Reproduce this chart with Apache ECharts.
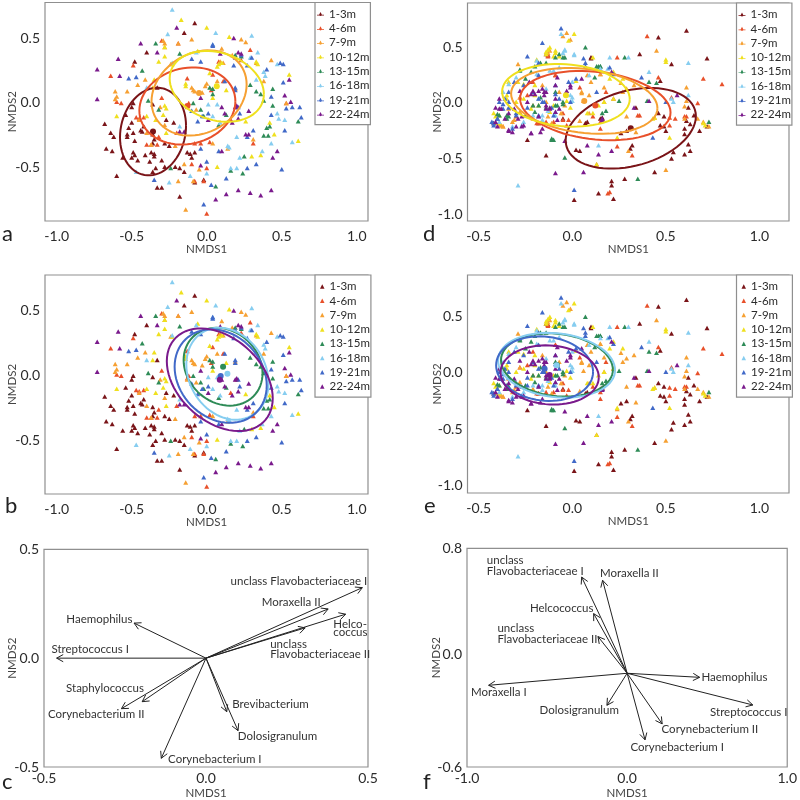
<!DOCTYPE html>
<html><head><meta charset="utf-8">
<style>html,body{margin:0;padding:0;background:#fff}#c{width:800px;height:800px}</style>
<script src="https://cdn.jsdelivr.net/npm/echarts@6/dist/echarts.min.js"></script>
</head><body><div id="c"></div>
<script>
const groupNames=['1-3m','4-6m','7-9m','10-12m','13-15m','16-18m','19-21m','22-24m'];
const groupColors=['#7a1418','#e8502a','#f6a032','#efe01e','#2e8b57','#86cdf0','#4169c8','#7a1a8c'];

// Site 1 ordination (panels a, b)
const left1_3=[[-.08,.615],[-.15,.54],[-.40,.39],[-.48,.32],[-.49,0],[-.50,-.03],[-.54,-.09],[-.50,-.15],[-.68,-.16],[-.64,-.23],[-.62,-.26],[-.67,-.35],[-.63,-.37],[-.60,-.56],[-.56,-.42],[-.53,-.24],[-.53,-.26],[-.49,-.23],[-.52,-.19],[-.44,-.21],[-.43,-.22],[-.42,-.18],[-.48,-.29],[-.36,-.24],[-.35,-.28],[-.36,-.31],[-.49,-.38],[-.48,-.40],[-.46,-.44],[-.50,-.42],[-.41,-.40],[-.37,-.38],[-.35,-.39],[-.38,-.45],[-.35,-.41],[-.34,-.5],[-.30,-.44],[-.28,-.49],[-.21,-.49],[-.36,-.53],[-.33,-.65],[-.30,-.65],[-.18,-.72],[-.18,-.50],[-.15,-.53],[-.13,-.38],[-.11,-.39],[-.08,-.38],[-.10,-.42],[-.02,-.59],[-.08,-.61],[-.25,-.33],[-.28,-.31],[-.22,-.15],[-.27,-.13],[-.36,-.01],[-.33,.12]];
const left4_6=[[-.64,.21],[-.49,.29],[-.60,.01],[-.57,0],[-.47,-.11],[-.45,-.12],[-.42,-.11],[-.40,-.32],[-.37,-.32],[-.33,-.32],[-.32,-.26],[-.30,.04],[-.30,.48],[-.19,.46],[-.13,.19],[-.12,0],[-.13,-.02],[.04,.22],[.08,.32],[.23,.33],[.29,.41],[.11,.17],[.03,.10],[.20,-.03],[.16,-.13],[-.20,-.23],[.02,-.30],[-.08,-.31],[-.04,-.31],[-.10,-.47],[-.02,-.60],[-.08,-.60],[0,-.50],[0,-.85],[.31,-.31],[.53,0]];
const left7_9=[[-.61,.09],[-.60,.05],[-.61,.03],[-.53,.09],[-.46,.14],[-.41,.18],[-.29,.48],[-.28,.46],[-.10,.49],[-.19,.46],[-.45,-.13],[-.40,-.23],[-.37,-.32],[-.28,-.17],[-.31,-.03],[-.21,-.33],[-.15,-.47],[-.19,-.60],[-.14,-.82],[-.09,-.60],[-.05,-.51],[.10,.42],[.17,.37],[.23,.49],[.26,.47],[.11,.31],[.09,.32],[.43,.33],[.38,.17],[.53,0],[.19,.11],[.07,.17],[-.10,.12],[-.09,.10],[0,.15],[-.01,.13],[-.07,-.05],[-.13,-.03],[-.08,.09],[-.03,.08],[.33,.31],[-.24,.30],[-.28,.43],[.04,-.31],[.14,-.35],[.31,-.28]];
const left10_12=[[-.17,.64],[0,.58],[.15,.51],[-.28,.43],[-.32,.32],[-.28,.36],[-.23,.30],[-.35,.18],[-.36,.12],[-.60,-.10],[-.34,-.13],[-.28,-.02],[-.27,-.04],[-.06,.40],[.02,.23],[.08,.30],[.10,.31],[.07,.28],[.33,.32],[.34,.30],[.55,.22],[.61,-.29],[.42,-.15],[.45,-.24],[.30,-.41],[.36,-.40],[.07,-.49],[-.27,-.23],[-.29,-.09],[-.40,-.10],[-.14,.15],[-.14,.13],[.04,.04],[.13,.10],[.26,-.14]];
const left13_15=[[-.34,.46],[-.18,.38],[-.43,.25],[-.39,.02],[-.32,-.05],[-.09,0],[.02,.12],[.04,.11],[.04,.07],[.19,.37],[.23,.36],[.29,.14],[.33,.09],[.36,.07],[.44,.11],[.38,.02],[.44,-.02],[.61,-.14],[.42,-.18],[.40,-.19],[.38,-.25],[.41,-.25],[.24,-.54],[.16,-.52],[.25,-.41],[.06,-.64],[-.24,-.50],[.13,-.09],[.08,-.17],[-.04,-.05],[-.02,-.10]];
const left16_18=[[-.23,.72],[-.26,.53],[.06,.54],[.30,.52],[.34,.39],[.29,.35],[.47,.30],[.38,.24],[.33,.18],[.39,.21],[-.40,.12],[-.47,-.53],[-.25,-.61],[-.11,-.56],[0,-.54],[.16,-.50],[.20,-.50],[.14,-.33],[.15,-.34],[.20,-.26],[.22,-.42],[.37,-.37],[.57,-.30],[.48,-.12],[.52,-.13],[.47,-.08],[.43,-.31],[.04,-.10],[.01,-.01],[.07,-.01],[.04,.45],[-.07,.39],[-.23,.31],[-.18,-.18],[.09,-.15]];
const left19_21=[[-.52,.19],[-.47,.20],[.04,.44],[.04,.45],[-.04,.32],[-.10,.34],[.18,.29],[.19,.12],[.12,.17],[.19,.10],[.19,.35],[.27,.29],[.23,.37],[.30,.35],[.40,.26],[.49,.31],[.51,.30],[.51,.16],[.43,.05],[.53,-.04],[.62,-.03],[.63,-.11],[.57,-.03],[.43,-.09],[.52,-.21],[.50,-.51],[.33,-.47],[.27,-.50],[.13,-.58],[.03,-.63],[-.02,-.78],[-.35,-.59],[0,-.45],[.08,-.37],[-.04,-.35],[.31,-.21],[.27,-.26],[-.06,-.14],[.01,-.08],[.21,-.03],[.22,-.08],[-.03,-.10],[-.10,-.06]];
const left22_24=[[-.73,.26],[-.73,.03],[-.59,.34],[-.58,.21],[-.44,.46],[-.33,.39],[-.20,.58],[.18,.50],[.09,.38],[.21,.39],[.23,.38],[.55,.18],[.52,.06],[.56,.01],[.47,-.37],[.44,-.42],[.26,-.24],[.28,-.24],[.21,-.67],[.13,-.70],[.29,-.69],[.36,-.71],[.43,-.67],[.06,-.74],[.10,-.37],[-.04,-.48],[-.18,-.22],[-.15,-.22],[.19,-.03],[.20,-.02],[.10,-.03],[.21,-.12],[.17,-.15],[.01,-.13],[.12,-.08],[.28,-.06],[-.04,.04]];

// Site 2 ordination (panels d, e)
const right1_3=[[.61,.65],[.46,.59],[.72,.40],[.36,.44],[.53,.35],[.47,.20],[.16,-.13],[.15,-.14],[.34,-.04],[.29,-.25],[.47,-.20],[.49,-.21],[.50,-.25],[.60,-.23],[.60,-.28],[.63,-.19],[.65,-.11],[.62,-.04],[.68,-.25],[.72,-.21],[.62,-.37],[.63,-.43],[.60,-.46],[.54,-.44],[.53,-.50],[.44,-.62],[.32,-.38],[.31,-.41],[.02,-.42],[.04,-.43],[-.14,-.47],[.21,-.70],[.21,-.74],[.28,-.68],[.14,-.81],[.22,-.86],[.01,-.87],[.49,-.12],[.46,-.09],[.26,-.27],[.61,-.16],[.10,.41],[-.13,.43],[-.05,-.14],[-.24,-.33],[.07,-.18],[-.18,-.18],[-.42,-.18],[.08,-.17],[.16,-.14],[.10,.40],[-.14,.44]];
const right4_6=[[.40,.60],[.70,.22],[.80,.17],[.24,.41],[.46,.23],[.53,.05],[.67,0],[.52,-.13],[.55,-.14],[.60,-.12],[.35,-.11],[.36,-.11],[.24,-.39],[.32,-.47],[.13,-.55],[.20,-.80],[.19,-.81],[.15,-.23],[.15,-.17],[-.09,.25],[-.13,.43],[-.21,.19],[.04,.14],[.18,.10],[.22,.04],[.11,-.12],[-.19,-.18],[-.03,-.20],[.61,-.12],[.52,-.20],[-.13,.42],[-.30,-.12],[-.28,.05],[-.24,.07],[-.18,-.18],[-.05,-.09],[-.05,-.15],[-.09,.25],[-.14,-.17],[-.10,-.17],[-.02,-.15]];
const right7_9=[[-.03,.63],[-.05,.60],[-.01,.57],[.45,.47],[-.29,.35],[.26,.18],[.61,.14],[.61,.02],[.60,-.03],[.60,-.14],[.67,-.14],[.73,-.21],[.50,-.60],[.30,-.43],[.24,-.32],[.34,-.26],[.29,-.12],[.29,.13],[.33,.16],[.27,.10],[.06,.02],[.05,.10],[.10,.19],[-.14,.01],[-.39,-.20],[-.37,-.21],[-.31,-.15],[-.34,-.05],[-.21,-.14],[-.16,.16],[.08,.25],[.15,.26],[.17,.01],[.44,-.13],[.70,-.17],[-.12,.47],[-.13,.45],[-.38,-.20],[-.37,-.21],[-.41,-.18],[-.32,-.17],[-.28,-.08],[-.28,.05],[-.21,-.02],[-.13,-.12],[-.11,-.18],[-.06,-.09],[.05,.09],[.09,.07],[.15,.26],[-.07,.10],[-.04,-.02],[.04,-.16],[.09,-.09],[.17,.14]];
const right10_12=[[.01,.62],[-.02,.56],[.50,.39],[.50,.37],[.52,-.31],[.44,-.13],[.43,-.14],[.24,-.31],[.22,.04],[.20,.22],[.11,.41],[-.09,.47],[-.12,.50],[-.14,.44],[-.07,.42],[-.10,.42],[-.39,-.11],[-.35,.04],[-.30,.01],[-.26,.04],[-.18,-.02],[-.10,-.02],[-.03,.02],[.08,-.09],[.11,-.09],[.27,.22],[.14,-.02],[.70,-.18],[.71,-.20],[.22,.28],[-.34,.19],[-.20,.16],[.13,-.55],[-.19,.39],[-.14,.46],[-.13,.48],[-.09,.45],[-.29,.19],[-.35,.07],[-.42,-.09],[-.41,-.12],[-.39,-.18],[-.20,.07],[-.22,-.05],[-.26,.17],[.02,.20],[-.12,-.08],[-.01,-.04],[.17,.01]];
const right13_15=[[.07,.50],[.14,.33],[.15,.33],[.28,.41],[.41,.19],[.45,.18],[.73,-.17],[.35,-.68],[-.04,-.49],[-.11,-.32],[-.10,-.33],[-.28,.29],[-.22,.28],[-.07,.44],[-.05,.41],[-.17,.36],[-.21,-.02],[-.18,-.02],[-.14,-.04],[-.09,-.02],[-.05,.01],[.18,-.07],[.16,-.09],[-.39,-.11],[-.35,-.14],[.25,.02],[.40,.02],[-.25,-.11],[-.09,.10],[.12,.23],[-.28,.30],[-.20,.33],[-.14,.36],[-.09,.41],[-.05,-.01],[-.08,-.02],[-.17,.05],[-.40,-.10],[-.35,-.11],[-.34,-.12],[-.11,-.33],[-.20,-.08],[-.04,.41],[.13,.33],[.15,.33],[-.25,.22]];
const right16_18=[[-.06,.62],[-.29,-.74],[.20,.41],[.30,.41],[.01,.44],[.62,.36],[.41,.28],[.19,.31],[-.04,.48],[.62,.07],[.54,.01],[.14,-.38],[-.16,-.15],[-.19,.26],[-.30,.23],[0,.02],[-.01,.07],[-.10,.29],[-.07,.32],[-.37,.10],[-.39,-.17],[-.18,-.12],[-.09,-.11],[-.14,.13],[0,.19],[.09,.25],[.15,.31],[-.21,-.11],[.53,.04],[-.05,.45],[-.19,.38],[-.04,.47],[.01,.43],[-.32,-.21],[-.27,-.20],[-.26,-.17],[-.16,-.11],[-.18,.04],[-.09,-.08],[-.13,-.07],[0,.05],[-.34,.17],[-.12,.29]];
const right19_21=[[-.06,.67],[-.16,.54],[-.24,.42],[-.18,.36],[.01,-.78],[.43,-.31],[.22,.26],[.37,.23],[.50,.01],[-.42,-.18],[-.42,-.20],[-.40,-.14],[-.39,.01],[-.37,-.05],[-.34,.01],[-.31,.19],[-.26,.16],[-.21,.10],[-.16,.01],[-.09,.16],[-.02,.19],[.02,.22],[.07,.33],[-.07,.04],[-.01,.01],[.13,.10],[-.32,-.23],[-.24,-.11],[-.15,.01],[-.10,-.11],[-.18,.25],[-.30,-.11],[.07,.36],[-.36,.04],[-.34,.10],[-.43,-.17],[-.40,-.14],[-.37,-.01],[-.34,-.04],[-.30,-.09],[-.24,-.04],[-.18,.04],[-.11,-.04],[-.09,.08],[-.18,-.11],[.06,.40],[.20,.32]];
const right22_24=[[-.09,-.63],[.06,-.62],[.14,-.46],[.21,-.43],[.08,-.38],[-.04,-.34],[-.22,-.27],[-.16,-.23],[-.34,-.24],[-.30,-.21],[-.26,-.20],[-.39,-.05],[-.41,-.17],[-.40,-.21],[-.36,-.14],[-.39,.04],[-.34,-.09],[-.28,.11],[-.23,.19],[-.18,.11],[-.14,.10],[-.14,-.05],[-.09,.16],[-.09,-.08],[-.03,.11],[-.12,-.04],[-.01,.16],[.05,.22],[-.07,-.05],[.21,.28],[.16,-.14],[.16,-.15],[.33,-.04],[.56,.07],[.41,.02],[-.18,-.12],[-.08,-.15],[-.31,-.05],[-.20,.08],[-.24,.01],[-.41,-.04],[-.38,-.05],[-.34,-.25],[-.32,-.26],[-.29,-.14],[-.27,-.12],[-.22,.08],[-.21,.11],[-.16,.13],[-.15,.10],[-.15,.07],[-.14,-.02],[-.12,-.05],[-.09,.04],[-.01,.14],[-.08,.23],[-.17,-.26],[-.27,-.21],[-.22,-.27]];

const leftPoints=[left1_3,left4_6,left7_9,left10_12,left13_15,left16_18,left19_21,left22_24];
const rightPoints=[right1_3,right4_6,right7_9,right10_12,right13_15,right16_18,right19_21,right22_24];

// Dispersion ellipses: group index, centre x, centre y, half width, half height, tilt
const ellipsesA=[[0,-.358,-.22,.22,.337,.13],[1,-.129,-.023,.32,.297,.12],[2,-.051,.077,.317,.328,.2],[3,.067,.128,.314,.273,-.22]];
const ellipsesB=[[4,.109,.069,.263,.299,-.17],[5,.138,.015,.274,.353,-.2],[6,.093,-.003,.307,.359,-.2],[7,.087,-.031,.353,.394,-.36]];
const ellipsesD=[[0,.3125,-.228,.348,.362,.3],[1,.123,-.024,.402,.311,-.2],[2,.064,.018,.391,.296,-.22],[3,-.034,.068,.341,.281,-.12]];
const ellipsesE=[[4,-.082,.071,.299,.281,-.15],[5,-.084,.068,.3125,.288,-.15],[6,-.148,.038,.259,.287,-.1],[7,-.121,-.018,.2625,.263,-.08]];

// Fitted vectors
const taxaC=['unclass Flavobacteriaceae I','Moraxella II','Helco-\ncoccus','unclass\nFlavobacteriaceae II','Haemophilus','Streptococcus I','Staphylococcus','Corynebacterium II','Corynebacterium I','Brevibacterium','Dolosigranulum'];
const vectorsC=[[.4825,.324],[.377,.226],[.431,.202],[.306,.139],[-.222,.161],[-.461,0],[-.197,-.20],[-.261,-.232],[-.138,-.46],[.064,-.246],[.099,-.333]];
const labelAtC=[[.076,.355],[.172,.255],[.393,.138],[.198,.04],[-.431,.179],[-.477,.04],[-.432,-.138],[-.488,-.257],[-.117,-.465],[.081,-.214],[.098,-.361]];
const taxaF=['unclass\nFlavobacteriaceae I','Moraxella II','Helcococcus','unclass\nFlavobacteriaceae II','Moraxella I','Haemophilus','Streptococcus I','Dolosigranulum','Corynebacterium II','Corynebacterium I'];
const vectorsF=[[-.284,.616],[-.153,.595],[-.209,.382],[-.182,.235],[-.865,-.077],[.453,-.026],[.785,-.203],[-.126,-.205],[.219,-.324],[.112,-.426]];
const labelAtF=[[-.876,.687],[-.17,.64],[-.607,.416],[-.81,.254],[-.975,-.124],[.464,-.026],[.518,-.247],[-.547,-.239],[.215,-.358],[.021,-.473]];

const FONT='Lato';
const AXIS='#8f8f8f', TEXT='#2b2b2b';
const panels=[
 {k:'a',g:{left:45,top:2.5,width:323,height:218.5},x:[-1.078,1.075],y:[-.908,.773],xt:[-1,-.5,0,.5,1],yt:[-.5,0,.5],pts:leftPoints,ell:ellipsesA,legTop:2.5,legLeft:315,line:true,gx:22,gy:27},
 {k:'b',g:{left:45,top:275,width:323,height:219},x:[-1.078,1.075],y:[-.908,.773],xt:[-1,-.5,0,.5,1],yt:[-.5,0,.5],pts:leftPoints,ell:ellipsesB,legTop:275,legLeft:315,line:false,gx:22,gy:27},
 {k:'d',g:{left:467.5,top:3,width:321.5,height:218},x:[-.56,1.158],y:[-1.06,.897],xt:[-.5,0,.5,1],yt:[-1,-.5,0,.5],pts:rightPoints,ell:ellipsesD,legTop:3,legLeft:736.5,line:true,gx:22,gy:24.5},
 {k:'e',g:{left:467.5,top:275,width:321.5,height:218},x:[-.56,1.158],y:[-1.067,.87],xt:[-.5,0,.5,1],yt:[-1,-.5,0,.5],pts:rightPoints,ell:ellipsesE,legTop:275,legLeft:736.5,line:false,gx:22,gy:24.5},
 {k:'c',g:{left:44,top:549.3,width:324,height:218},x:[-.5,.5],y:[-.5,.5],xt:[-.5,0,.5],yt:[-.5,0,.5],taxa:taxaC,vec:vectorsC,lab:labelAtC,gx:20,gy:26},
 {k:'f',g:{left:467,top:548.3,width:322,height:219},x:[-1,1],y:[-.6,.8],xt:[-1,0,1],yt:[-.6,.118,.8],ylab:{'-0.6':'-0.6','0.118':'0.0','0.8':'0.8'},taxa:taxaF,vec:vectorsF,lab:labelAtF,gx:20,gy:24.5}
];
const letters=[['a',2,223],['b',5,495],['c',2,771],['d',423,223],['e',424,495],['f',423,771]];

const grid=[],xAxis=[],yAxis=[],series=[],legend=[];
panels.forEach((p,i)=>{
  grid.push({...p.g,show:true,borderColor:AXIS,borderWidth:1.2,backgroundColor:'#fff',containLabel:false});
  xAxis.push({type:'value',gridIndex:i,min:p.x[0],max:p.x[1],name:'NMDS1',nameLocation:'middle',nameGap:p.gx,nameMoveOverlap:false,
    nameTextStyle:{fontFamily:FONT,fontSize:11.5,color:'#444'},splitLine:{show:false},axisLine:{show:false},axisTick:{show:false},
    axisLabel:{customValues:p.xt,formatter:v=>v.toFixed(1),fontFamily:FONT,fontSize:14,color:TEXT,margin:p.vec?4:8}});
  yAxis.push({type:'value',gridIndex:i,min:p.y[0],max:p.y[1],name:'NMDS2',nameLocation:'middle',nameGap:p.gy,nameMoveOverlap:false,
    nameTextStyle:{fontFamily:FONT,fontSize:11.5,color:'#444'},splitLine:{show:false},axisLine:{show:false},axisTick:{show:false},
    axisLabel:{customValues:p.yt,formatter:v=>p.ylab?p.ylab[String(v)]:v.toFixed(1),fontFamily:FONT,fontSize:14,color:TEXT,margin:5}});
  if(p.pts){
    p.pts.forEach((d,g)=>series.push({type:'scatter',name:groupNames[g],xAxisIndex:i,yAxisIndex:i,data:d,symbol:'triangle',symbolSize:[5,4.5],
      itemStyle:{color:groupColors[g],opacity:1},silent:true,z:2,clip:false}));
    series.push({type:'custom',name:'ellipses-'+p.k,xAxisIndex:i,yAxisIndex:i,data:p.ell,z:3,silent:true,clip:false,
      renderItem(params,api){
        const g=api.value(0),cx=api.value(1),cy=api.value(2),X=api.value(3),Y=api.value(4),r=api.value(5);
        const pts=[];
        for(let t=0;t<=72;t++){const a=t/72*2*Math.PI;
          pts.push(api.coord([cx+X*Math.cos(a),cy+Y*(r*Math.cos(a)+Math.sqrt(1-r*r)*Math.sin(a))]));}
        const c=api.coord([cx,cy]);
        return {type:'group',children:[
          {type:'polyline',shape:{points:pts},style:{stroke:groupColors[g],lineWidth:2,fill:null}},
          {type:'circle',shape:{cx:c[0],cy:c[1],r:3},style:{fill:groupColors[g]}}]};
      }});
    legend.push({left:p.legLeft,top:p.legTop,orient:'vertical',itemGap:1.3,itemWidth:p.line?7:4.5,itemHeight:p.line?5:4.5,
      padding:[5,1,4,p.line?2:5],backgroundColor:'#fff',borderColor:AXIS,borderWidth:1.2,selectedMode:false,z:10,
      textStyle:{fontFamily:FONT,fontSize:11.5,color:TEXT,lineHeight:13},
      data:groupNames.map(n=>({name:n,icon:p.line?'path://M0 5 L3 5 L5 1 L7 5 L10 5 L10 6 L7 6 L5 7 L3 6 L0 6Z':'triangle'}))});
  } else {
    series.push({type:'custom',name:'vectors-'+p.k,xAxisIndex:i,yAxisIndex:i,data:p.vec,z:3,silent:true,clip:false,
      renderItem(params,api){
        const o=api.coord([0,0]),tip=api.coord([api.value(0),api.value(1)]);
        const ang=Math.atan2(tip[1]-o[1],tip[0]-o[0]),L=7.5,s=0.5;
        const h1=[tip[0]-L*Math.cos(ang-s),tip[1]-L*Math.sin(ang-s)],h2=[tip[0]-L*Math.cos(ang+s),tip[1]-L*Math.sin(ang+s)];
        const st={stroke:'#222',lineWidth:1,fill:null};
        return {type:'group',children:[
          {type:'polyline',shape:{points:[o,tip]},style:st},
          {type:'polyline',shape:{points:[h1,tip,h2]},style:st}]};
      }});
    series.push({type:'custom',name:'taxa-'+p.k,xAxisIndex:i,yAxisIndex:i,data:p.lab,z:4,silent:true,clip:false,
      renderItem(params,api){
        const c=api.coord([api.value(0),api.value(1)]),t=p.taxa[params.dataIndex];
        return {type:'text',style:{text:t,x:c[0],y:c[1],align:'left',verticalAlign:'middle',fill:'#333',
          font:'11.5px '+FONT,lineHeight:t.startsWith('Helco-')?8:10.5}};
      }});
  }
});
const title=letters.map(l=>({text:l[0],left:l[1],top:l[2],padding:0,textStyle:{fontFamily:FONT,fontSize:22,fontWeight:'normal',color:'#222'}}));
const chart=echarts.init(document.getElementById('c'),null,{renderer:'canvas'});
chart.setOption({animation:false,backgroundColor:'#fff',title,grid,xAxis,yAxis,legend,series,tooltip:{show:false}});
</script></body></html>
